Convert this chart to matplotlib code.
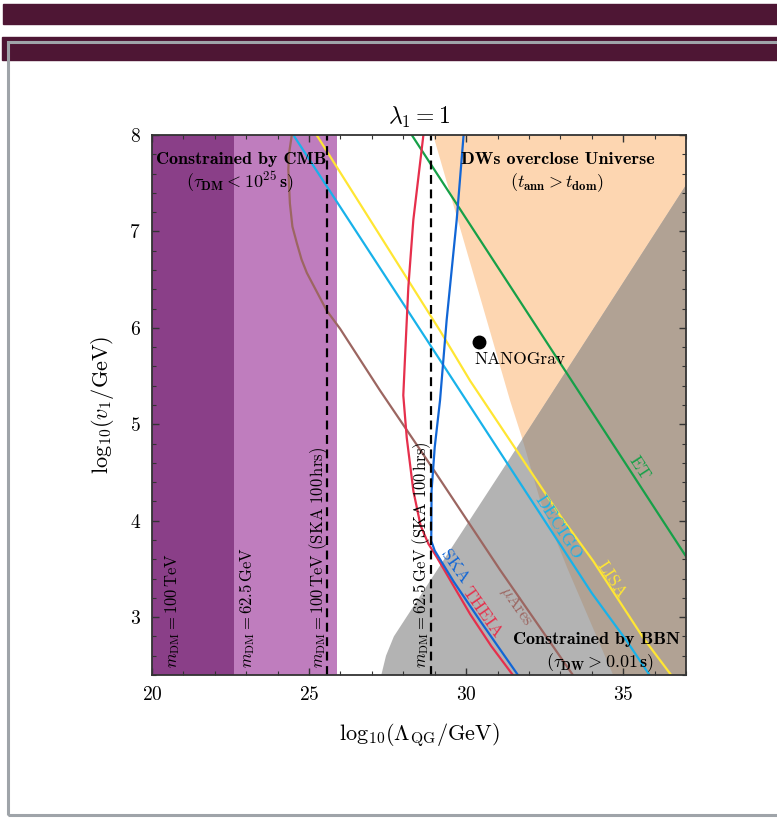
import matplotlib.pyplot as plt
from matplotlib.patches import Rectangle, Polygon

plt.rcParams['font.family'] = 'serif'
plt.rcParams['font.serif'] = ['cmr10']
plt.rcParams['mathtext.fontset'] = 'cm'
plt.rcParams['axes.unicode_minus'] = False
plt.rcParams['axes.formatter.use_mathtext'] = True

# axis ranges
x_min, x_max = 20, 37
y_min, y_max = 2.4, 8

# excluded dark-matter mass bands (CMB)
band_dark = (20, 22.6)
band_light = (22.6, 25.9)
# SKA 100 hrs reach
ska_lines = [25.58, 28.88]

# DW overclosure boundary (left edge of region)
dw_x = [28.95, 31.40, 31.78, 32.36, 33.22, 34.68]
dw_y = [8.0, 5.245, 4.86, 4.21, 3.51, 2.4]

# BBN boundary (upper edge of region)
bbn_x = [27.3, 27.45, 27.7, 28.1, 28.6, 29.5, 31.5, 37.0]
bbn_y = [2.4, 2.6, 2.8, 3.0, 3.25, 3.7, 4.7, 7.48]

# GW detector sensitivity curves
et_x = [28.27, 37.0]
et_y = [8.0, 3.63]

lisa_x = [25.24, 29.17, 30.13, 33.0, 34.05, 35.65, 36.55]
lisa_y = [8.0, 5.97, 5.45, 4.05, 3.58, 2.78, 2.39]

decigo_x = [24.5, 34.0, 35.12, 35.86]
decigo_y = [8.0, 3.25, 2.75, 2.39]

mu_x = [24.45, 24.36, 24.34, 24.39, 24.47, 24.61, 24.76, 24.93, 25.56, 25.99, 27.26, 28.88, 31.08, 33.42]
mu_y = [8.0, 7.8, 7.64, 7.29, 7.05, 6.88, 6.71, 6.57, 6.18, 5.99, 5.35, 4.57, 3.49, 2.39]

theia_x = [28.64, 28.32, 28.16, 28.06, 28.0, 28.11, 28.32, 28.55, 28.8, 29.07, 29.5, 30.13, 30.8, 31.51]
theia_y = [8.0, 7.12, 6.42, 5.73, 5.3, 4.86, 4.31, 3.95, 3.76, 3.62, 3.38, 3.03, 2.7, 2.39]

ska_x = [29.92, 29.7, 29.38, 29.17, 29.0, 28.9, 28.89, 29.0, 29.6, 30.45, 31.67]
ska_y = [8.0, 7.12, 6.08, 5.25, 4.76, 4.31, 3.79, 3.69, 3.37, 2.96, 2.39]

nanograv = (30.41, 5.85)

c_dark = '#8A3F88'
c_light = '#BF7DBE'
c_orange = '#FDD6B1'
c_gray = '#B3B3B3'
c_overlap = '#B1A294'
maroon = '#4E1634'

fig = plt.figure(figsize=(7.77, 8.18), dpi=100)

# slide frame
fig.patches.append(Rectangle((3 / 777, 1 - 24 / 818), 774 / 777, 20 / 818,
                             transform=fig.transFigure, color=maroon, zorder=0))
fig.patches.append(Rectangle((2 / 777, 1 - 60 / 818), 775 / 777, 23 / 818,
                             transform=fig.transFigure, color=maroon, zorder=0))
fig.patches.append(Rectangle((7.5 / 777, 3 / 818), 800 / 777, (815 - 41.5) / 818,
                             transform=fig.transFigure, fill=False, ec='#9FA4A9', lw=2.2, zorder=1))

ax = fig.add_axes([152 / 777, 1 - 675 / 818, 534 / 777, 540 / 818])
ax.set_xlim(x_min, x_max)
ax.set_ylim(y_min, y_max)

ax.axvspan(*band_dark, color=c_dark, lw=0, zorder=1)
ax.axvspan(*band_light, color=c_light, lw=0, zorder=1)

dw_poly = list(zip(dw_x, dw_y)) + [(x_max, y_min), (x_max, y_max)]
ax.add_patch(Polygon(dw_poly, closed=True, color=c_orange, lw=0, zorder=1))

bbn_poly = list(zip(bbn_x, bbn_y)) + [(x_max, y_min)]
bbn_patch = Polygon(bbn_poly, closed=True, color=c_gray, lw=0, zorder=1.1)
ax.add_patch(bbn_patch)
over = Polygon(dw_poly, closed=True, color=c_overlap, lw=0, zorder=1.2)
ax.add_patch(over)
over.set_clip_path(bbn_patch)

for xv in ska_lines:
    ax.axvline(xv, color='black', ls=(0, (4, 2.5)), lw=1.6, zorder=3)

ax.plot(et_x, et_y, color='#16A048', lw=1.6, zorder=2)
ax.plot(lisa_x, lisa_y, color='#FFE633', lw=1.6, zorder=2)
ax.plot(decigo_x, decigo_y, color='#18B2EA', lw=1.6, zorder=2)
ax.plot(mu_x, mu_y, color='#9C6661', lw=1.6, zorder=2)
ax.plot(theia_x, theia_y, color='#E62F4C', lw=1.6, zorder=2)
ax.plot(ska_x, ska_y, color='#1166D6', lw=1.6, zorder=2)

ax.plot(*nanograv, 'o', color='black', ms=9, zorder=4)
ax.text(30.27, 5.75, 'NANOGrav', fontsize=12.5, ha='left', va='top', zorder=4)

# region labels
ax.text(22.85, 7.75, 'Constrained by CMB', family='cmb10', fontsize=13, ha='center', va='center')
ax.text(22.8, 7.51, r'$(\tau_{\mathbf{DM}} < \mathbf{10}^{\mathbf{25}}\,\mathbf{s})$', fontsize=13,
        ha='center', va='center')
ax.text(32.91, 7.75, 'DWs overclose Universe', family='cmb10', fontsize=13, ha='center', va='center')
ax.text(32.9, 7.51, r'$(t_{\mathbf{ann}} > t_{\mathbf{dom}})$', fontsize=13, ha='center', va='center')
ax.text(34.14, 2.77, 'Constrained by BBN', family='cmb10', fontsize=13, ha='center', va='center')
ax.text(34.27, 2.53, r'$(\tau_{\mathbf{DW}} > \mathbf{0.01}\,\mathbf{s})$', fontsize=13,
        ha='center', va='center')

# dark matter mass labels
vlab = dict(rotation=90, fontsize=12, ha='center', va='bottom', zorder=4)
ax.text(20.64, 2.47, r'$m_{\rm DM} = 100\,{\rm TeV}$', **vlab)
ax.text(23.03, 2.47, r'$m_{\rm DM} = 62.5\,{\rm GeV}$', **vlab)
ax.text(25.29, 2.47, r'$m_{\rm DM} = 100\,{\rm TeV}\ ({\rm SKA\ 100\,hrs})$', **vlab)
ax.text(28.59, 2.47, r'$m_{\rm DM} = 62.5\,{\rm GeV}\ ({\rm SKA\ 100\,hrs})$', **vlab)

# detector labels
ax.text(35.5, 4.55, 'ET', color='#16A048', fontsize=13, rotation=-57, ha='center', va='center')
ax.text(32.93, 3.93, 'DECIGO', color='#18B2EA', fontsize=13, rotation=-57, ha='center', va='center')
ax.text(34.63, 3.39, 'LISA', color='#FFE633', fontsize=13, rotation=-57, ha='center', va='center')
ax.text(31.62, 3.12, r'$\mu$Ares', color='#9C6661', fontsize=12, rotation=-55, ha='center', va='center')
ax.text(29.62, 3.52, 'SKA', color='#1166D6', fontsize=13, rotation=-55, ha='center', va='center')
ax.text(30.5, 3.05, 'THEIA', color='#E62F4C', fontsize=13, rotation=-55, ha='center', va='center')

ax.set_xticks([20, 25, 30, 35])
ax.set_yticks([3, 4, 5, 6, 7, 8])
ax.set_xticks(range(20, 38), minor=True)
ax.set_yticks([2.4 + 0.2 * i for i in range(29)], minor=True)
ax.tick_params(which='both', direction='in', top=True, right=True, color='#333333', labelsize=14)
ax.tick_params(which='major', length=5, width=1, pad=8)
ax.tick_params(which='minor', length=3, width=0.8)
for s in ax.spines.values():
    s.set_color('#333333')
    s.set_linewidth(1.3)
    s.set_zorder(5)

ax.set_xlabel(r'$\mathrm{log}_{10}(\Lambda_{\rm QG}/{\rm GeV})$', fontsize=16, labelpad=12)
ax.set_ylabel(r'$\mathrm{log}_{10}(v_1/{\rm GeV})$', fontsize=16, labelpad=10)
ax.set_title(r'$\lambda_1 = 1$', fontsize=17, pad=8)

fig.savefig('out.png', dpi=100)
